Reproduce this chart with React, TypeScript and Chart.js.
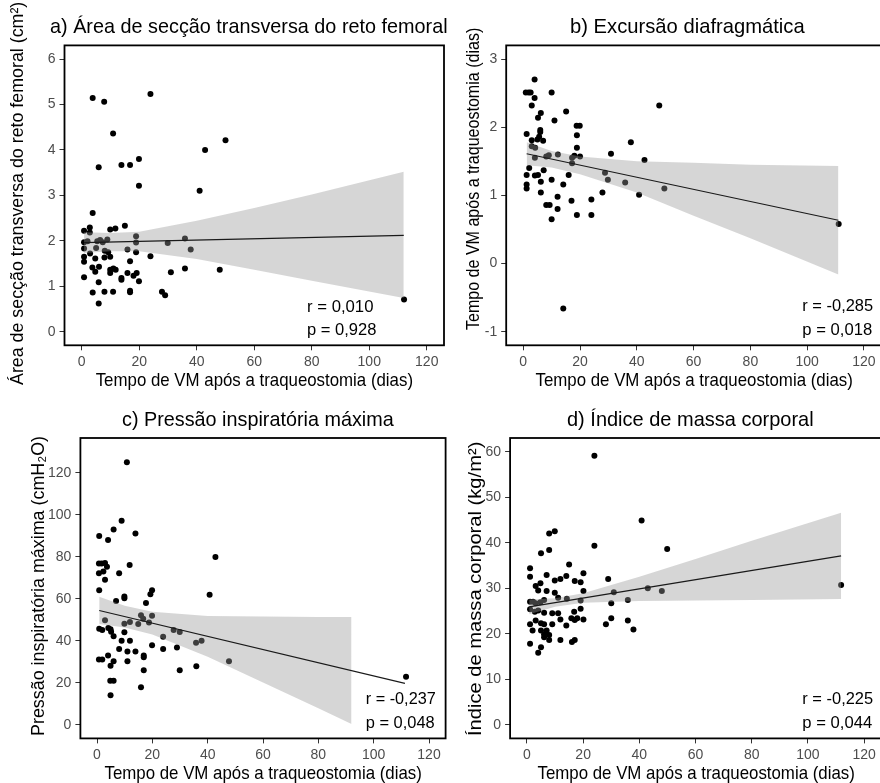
import React, { useEffect, useRef } from "react";
import { Chart, registerables } from "chart.js";

Chart.register(...registerables);

// ---------------- DATA ----------------
const xTickValues = [0, 20, 40, 60, 80, 100, 120];

// a) Área de secção transversa do reto femoral
const aDays = [3.8, 7.8, 23.9, 10.9, 42.9, 50, 5.9, 13.8, 16.8, 19.9, 19.9, 41, 3.8, 15, 9.9, 11.7, 0.8, 2.8, 2.8, 0.8, 2, 6.4, 8.9, 5.4, 7.3, 18.9, 18.9, 18.9, 15.9, 29.9, 35.9, 37.9, 0.8, 2.9, 5, 8, 9.2, 0.8, 0.8, 4.7, 7.9, 9.9, 23.9, 16.8, 3.7, 6, 4.7, 9.9, 11, 11.8, 9.9, 13.8, 13.8, 15.9, 18, 19.1, 19.9, 0.8, 5.9, 31, 35.9, 48, 3.8, 7.9, 10.9, 16.8, 16.8, 27.9, 29, 5.9, 112.1];
const aVals = [5.14, 5.06, 5.23, 4.36, 4.0, 4.21, 3.62, 3.67, 3.67, 3.8, 3.21, 3.1, 2.61, 2.33, 2.25, 2.27, 2.22, 2.29, 2.18, 1.97, 1.99, 2.02, 2.03, 1.99, 1.97, 2.1, 1.96, 1.75, 1.81, 1.95, 2.05, 1.81, 1.83, 1.72, 1.84, 1.78, 1.75, 1.65, 1.54, 1.61, 1.63, 1.65, 1.66, 1.55, 1.41, 1.43, 1.32, 1.36, 1.39, 1.36, 1.29, 1.18, 1.14, 1.29, 1.23, 1.29, 1.11, 1.2, 1.09, 1.31, 1.39, 1.36, 0.86, 0.88, 0.88, 0.9, 0.87, 0.88, 0.8, 0.62, 0.71];
const aLineX = [0.8, 112];
const aLineY = [1.96, 2.12];
const aBandX = [0.8, 10, 20, 40, 60, 80, 112];
const aBandTop = [2.19, 2.17, 2.2, 2.44, 2.72, 3.02, 3.52];
const aBandBottom = [1.73, 1.77, 1.77, 1.6, 1.36, 1.12, 0.74];
const aYTicks = [0, 1, 2, 3, 4, 5, 6];

// b) Excursão diafragmática
const bDays = [4, 0.9, 1.9, 2.6, 10, 4, 3, 6.2, 5.2, 15.1, 11, 47.9, 1.2, 6, 6, 5.6, 5, 3, 7, 18.8, 19.9, 18.9, 18.9, 37.9, 3, 4.2, 9, 12.2, 8.1, 4.1, 17.2, 18, 20, 30.9, 42.7, 2.1, 7.2, 17.2, 1.2, 4.1, 5.2, 16, 6.2, 10, 14.1, 28.8, 29.8, 35.9, 1.2, 1.2, 6.2, 12.1, 27.9, 40.8, 49.7, 8.1, 9.3, 17, 24, 12.1, 18.9, 24, 10, 14.1, 111.1];
const bVals = [2.7, 2.51, 2.51, 2.51, 2.51, 2.43, 2.32, 2.21, 2.14, 2.23, 2.1, 2.32, 1.9, 1.96, 1.93, 1.86, 1.82, 1.81, 1.8, 2.02, 2.02, 1.88, 1.7, 1.78, 1.72, 1.7, 1.59, 1.6, 1.57, 1.55, 1.55, 1.58, 1.57, 1.61, 1.52, 1.4, 1.37, 1.47, 1.3, 1.29, 1.3, 1.3, 1.2, 1.23, 1.16, 1.33, 1.23, 1.19, 1.16, 1.1, 1.04, 0.98, 1.04, 1.01, 1.1, 0.86, 0.86, 0.92, 0.94, 0.8, 0.71, 0.71, 0.65, -0.66, 0.58];
const bLineX = [1.2, 111];
const bLineY = [1.61, 0.635];
const bBandX = [1.2, 10, 20, 40, 60, 80, 111];
const bBandTop = [1.78, 1.65, 1.57, 1.5, 1.48, 1.45, 1.43];
const bBandBottom = [1.44, 1.41, 1.31, 1.04, 0.7, 0.37, -0.16];
const bYTicks = [-1, 0, 1, 2, 3];

// c) Pressão inspiratória máxima
const cDays = [10.8, 8.9, 6.0, 0.8, 4.0, 13.9, 42.8, 0.7, 1.7, 2.9, 3.6, 0.7, 2.3, 2.9, 8, 11.8, 0.8, 9.9, 9.9, 6.9, 19.9, 19.3, 17.7, 40.7, 2.9, 15.9, 16.7, 19.9, 18.8, 14.9, 11.9, 9.9, 0.8, 1.9, 4.1, 4.9, 5.1, 6, 9.9, 23.9, 27.7, 29.9, 8.9, 11.9, 19.9, 35.8, 37.8, 8, 11, 13.9, 16.9, 16.9, 23.9, 28.9, 0.7, 1.9, 4, 6, 4.9, 11, 16.9, 29.9, 35.9, 47.7, 4.8, 6, 15.9, 4.9, 111.7];
const cVals = [124.9, 97.1, 93.0, 89.8, 87.9, 91.0, 79.8, 76.7, 76.8, 77.0, 75.2, 72.1, 72.9, 69.0, 72.1, 76.0, 64.0, 61.0, 60.2, 58.9, 64.0, 62.1, 57.9, 61.9, 49.8, 52.1, 50.5, 51.9, 48.7, 47.9, 48.9, 48.1, 45.7, 45.1, 46.0, 45.4, 44.3, 42.1, 44.0, 41.9, 45.1, 44.1, 40.0, 40.0, 37.9, 39.0, 40.0, 36.0, 34.9, 34.9, 33.0, 32.1, 36.0, 36.8, 31.0, 31.0, 33.0, 30.2, 28.1, 30.2, 26.0, 26.0, 27.9, 30.2, 21.0, 21.0, 17.9, 14.0, 22.9];
const cLineX = [0.8, 111.3];
const cLineY = [54.4, 19.7];
const cBandX = [0.8, 10, 20, 40, 60, 80, 92];
const cBandTop = [60.9, 56.7, 53.8, 51.8, 51.5, 51.3, 51.3];
const cBandBottom = [47.9, 46.3, 43.0, 32.4, 20.1, 7.9, 0.3];
const cYTicks = [0, 20, 40, 60, 80, 100, 120];

// d) Índice de massa corporal
const dDays = [24, 40.8, 49.9, 24, 9.9, 7.9, 5, 7.9, 15, 1.1, 1.1, 7, 3.1, 4.8, 4, 7, 9.9, 11.9, 14, 17, 19.1, 20.1, 20.1, 28.9, 9.9, 11.1, 14.2, 30.9, 43, 48, 35.9, 30, 19.1, 1.1, 2.2, 3.1, 4.8, 6.1, 1.1, 2.8, 4, 6.1, 9, 11.1, 16.8, 19.1, 3.1, 1.1, 5, 6.1, 9, 11.9, 14, 15.8, 17, 17.9, 20.1, 28.1, 30, 35.9, 37.9, 2, 5, 7, 6.1, 7.9, 6.1, 7.9, 11.9, 16, 17, 1.1, 5, 4, 111.8];
const dVals = [59.1, 44.9, 38.6, 39.3, 42.5, 42.0, 37.7, 38.4, 35.2, 34.4, 32.5, 32.9, 30.5, 31.1, 29.5, 29.4, 31.7, 32.0, 32.7, 31.6, 31.3, 33.3, 29.4, 32.0, 29.0, 27.9, 27.7, 29.1, 30.0, 29.4, 27.4, 26.7, 27.3, 27.0, 27.0, 26.7, 26.9, 27.4, 25.4, 24.8, 25.1, 24.6, 24.5, 24.5, 24.8, 25.5, 22.9, 22.1, 22.3, 22.1, 22.1, 23.1, 21.8, 23.4, 23.0, 23.4, 23.1, 22.1, 23.4, 22.9, 20.9, 20.7, 20.7, 20.7, 19.9, 19.7, 19.2, 18.6, 18.6, 18.2, 18.6, 17.8, 17.0, 15.8, 30.7];
const dLineX = [0.8, 111.8];
const dLineY = [25.9, 37.1];
const dBandX = [0.8, 10, 20, 40, 60, 80, 111.8];
const dBandTop = [27.5, 27.8, 28.9, 32.5, 36.4, 40.4, 46.6];
const dBandBottom = [24.3, 25.9, 26.8, 27.2, 27.3, 27.4, 27.6];
const dYTicks = [0, 10, 20, 30, 40, 50, 60];

// ---------------- TEXT ----------------
const xTitle = "Tempo de VM após a traqueostomia (dias)";
const titles = [
  "a) Área de secção transversa do reto femoral",
  "b) Excursão diafragmática",
  "c) Pressão inspiratória máxima",
  "d) Índice de massa corporal",
];
const yTitles = [
  "Área de secção transversa do reto femoral (cm²)",
  "Tempo de VM após a traqueostomia (dias)",
  "Pressão inspiratória máxima (cmH₂O)",
  "Índice de massa corporal (kg/m²)",
];
const rTexts = ["r = 0,010", "r = -0,285", "r = -0,237", "r = -0,225"];
const pTexts = ["p = 0,928", "p = 0,018", "p = 0,048", "p = 0,044"];

// ---------------- LAYOUT / STYLE ----------------
const FONT = '"Liberation Sans", Arial, sans-serif';

type TextItem = {
  text: string;
  x1: number; // horizontal: left ; rotated: start (bottom) y
  x2: number; // horizontal: right ; rotated: end (top) y
  y: number; // horizontal: baseline y ; rotated: baseline x
  size: number;
  rot?: boolean;
};

type Panel = {
  offX: number;
  offY: number;
  w: number;
  h: number;
  left: number;
  top: number;
  right: number;
  bottom: number;
  yMin: number;
  yMax: number;
  yTicks: number[];
  pts: { x: number; y: number }[];
  line: { x: number; y: number }[];
  bandTop: { x: number; y: number }[];
  bandBottom: { x: number; y: number }[];
  texts: TextItem[];
};

const zip = (xs: number[], ys: number[]) => xs.map((x, i) => ({ x, y: ys[i] }));

function drawItem(ctx: CanvasRenderingContext2D, t: TextItem, offX: number, offY: number) {
  ctx.save();
  ctx.font = `${t.size}px ${FONT}`;
  ctx.fillStyle = "#000";
  ctx.textBaseline = "alphabetic";
  ctx.textAlign = "left";
  const m = ctx.measureText(t.text);
  const vis = m.actualBoundingBoxLeft + m.actualBoundingBoxRight;
  const k = Math.abs(t.x2 - t.x1) / vis;
  if (!t.rot) {
    ctx.translate(t.x1 - offX, t.y - offY);
  } else {
    ctx.translate(t.y - offX, t.x1 - offY);
    ctx.rotate(-Math.PI / 2);
  }
  ctx.scale(k, 1);
  ctx.fillText(t.text, m.actualBoundingBoxLeft, 0);
  ctx.restore();
}

const centered = (c: number, w: number) => [c - w / 2, c + w / 2];

const panels: Panel[] = [
  {
    offX: 0, offY: 0, w: 460, h: 392,
    left: 64.5, top: 45.4, right: 444, bottom: 345.3,
    yMin: -0.3, yMax: 6.3, yTicks: aYTicks,
    pts: zip(aDays, aVals), line: zip(aLineX, aLineY),
    bandTop: zip(aBandX, aBandTop), bandBottom: zip(aBandX, aBandBottom),
    texts: [
      { text: titles[0], x1: 50, x2: 447, y: 33, size: 21 },
      { text: xTitle, x1: centered(254.2, 317)[0], x2: centered(254.2, 317)[1], y: 386, size: 19 },
      { text: yTitles[0], x1: 385, x2: 2, y: 23, size: 19, rot: true },
      { text: rTexts[0], x1: 308, x2: 373, y: 311.7, size: 17 },
      { text: pTexts[0], x1: 308, x2: 376, y: 335, size: 17 },
    ],
  },
  {
    offX: 440, offY: 0, w: 445, h: 392,
    left: 66.2, top: 45.4, right: 442, bottom: 345.3,
    yMin: -1.2, yMax: 3.2, yTicks: bYTicks,
    pts: zip(bDays, bVals), line: zip(bLineX, bLineY),
    bandTop: zip(bBandX, bBandTop), bandBottom: zip(bBandX, bBandBottom),
    texts: [
      { text: titles[1], x1: 571, x2: 805, y: 33, size: 21 },
      { text: xTitle, x1: centered(694, 317)[0], x2: centered(694, 317)[1], y: 386, size: 19 },
      { text: yTitles[1], x1: 330, x2: 28, y: 479, size: 19, rot: true },
      { text: rTexts[1], x1: 803.3, x2: 872.7, y: 311, size: 17 },
      { text: pTexts[1], x1: 803.3, x2: 871.7, y: 335, size: 17 },
    ],
  },
  {
    offX: 0, offY: 392, w: 460, h: 391,
    left: 80.4, top: 46, right: 445.6, bottom: 346.4,
    yMin: -6.5, yMax: 136.5, yTicks: cYTicks,
    pts: zip(cDays, cVals), line: zip(cLineX, cLineY),
    bandTop: zip(cBandX, cBandTop), bandBottom: zip(cBandX, cBandBottom),
    texts: [
      { text: titles[2], x1: 122, x2: 394, y: 426, size: 21 },
      { text: xTitle, x1: centered(263, 317)[0], x2: centered(263, 317)[1], y: 779, size: 19 },
      { text: yTitles[2], x1: 735, x2: 437, y: 44, size: 18, rot: true },
      { text: rTexts[2], x1: 366.7, x2: 435.3, y: 704, size: 17 },
      { text: pTexts[2], x1: 366.7, x2: 434.3, y: 728.3, size: 17 },
    ],
  },
  {
    offX: 440, offY: 392, w: 445, h: 391,
    left: 70.1, top: 46, right: 442, bottom: 346.4,
    yMin: -3, yMax: 63, yTicks: dYTicks,
    pts: zip(dDays, dVals), line: zip(dLineX, dLineY),
    bandTop: zip(dBandX, dBandTop), bandBottom: zip(dBandX, dBandBottom),
    texts: [
      { text: titles[3], x1: 567, x2: 813, y: 426, size: 21 },
      { text: xTitle, x1: centered(696, 317)[0], x2: centered(696, 317)[1], y: 779, size: 19 },
      { text: yTitles[3], x1: 735, x2: 442, y: 481, size: 19, rot: true },
      { text: rTexts[3], x1: 803.3, x2: 872.7, y: 704, size: 17 },
      { text: pTexts[3], x1: 803.3, x2: 871.7, y: 727.7, size: 17 },
    ],
  },
];

function buildConfig(p: Panel): any {
  const decor = {
    id: "decor",
    afterDraw(chart: any) {
      const ctx: CanvasRenderingContext2D = chart.ctx;
      const a = chart.chartArea;
      ctx.save();
      ctx.strokeStyle = "#000";
      ctx.lineWidth = 1.8;
      ctx.strokeRect(a.left, a.top, a.right - a.left, a.bottom - a.top);
      ctx.restore();
      p.texts.forEach((t) => drawItem(ctx, t, p.offX, p.offY));
    },
  };
  const tickFont = { family: FONT, size: 14 };
  return {
    type: "scatter",
    data: {
      datasets: [
        { type: "line", data: p.line, borderColor: "#1a1a1a", borderWidth: 1.2, pointRadius: 0, fill: false, order: 0, tension: 0 },
        { type: "line", data: p.bandTop, borderWidth: 0, borderColor: "rgba(0,0,0,0)", pointRadius: 0, backgroundColor: "rgba(153,153,153,0.4)", fill: "+1", order: 1, tension: 0 },
        { type: "line", data: p.bandBottom, borderWidth: 0, borderColor: "rgba(0,0,0,0)", pointRadius: 0, fill: false, order: 2, tension: 0 },
        { type: "scatter", data: p.pts, backgroundColor: "#000", borderWidth: 0, pointRadius: 3, order: 3 },
      ],
    },
    options: {
      animation: false,
      responsive: false,
      devicePixelRatio: 1,
      events: [],
      layout: { padding: { left: 0, top: p.top, right: p.w - p.right, bottom: 0 } },
      plugins: { legend: { display: false }, tooltip: { enabled: false }, title: { display: false } },
      scales: {
        x: {
          type: "linear",
          min: -6,
          max: 126,
          afterBuildTicks: (axis: any) => {
            axis.ticks = xTickValues.map((v) => ({ value: v }));
          },
          afterFit: (s: any) => {
            s.height = p.h - p.bottom;
          },
          ticks: { color: "#4d4d4d", font: tickFont, padding: 3, maxRotation: 0, autoSkip: false },
          grid: { drawOnChartArea: false, drawTicks: true, tickLength: 5, color: "#333", lineWidth: 1 },
          border: { display: false },
        },
        y: {
          type: "linear",
          min: p.yMin,
          max: p.yMax,
          afterBuildTicks: (axis: any) => {
            axis.ticks = p.yTicks.map((v) => ({ value: v }));
          },
          afterFit: (s: any) => {
            s.width = p.left;
          },
          ticks: { color: "#4d4d4d", font: tickFont, padding: 4, autoSkip: false },
          grid: { drawOnChartArea: false, drawTicks: true, tickLength: 5, color: "#333", lineWidth: 1 },
          border: { display: false },
        },
      },
    },
    plugins: [decor],
  };
}

function PanelChart({ p }: { p: Panel }) {
  const ref = useRef<HTMLCanvasElement>(null);
  useEffect(() => {
    const chart = new Chart(ref.current as HTMLCanvasElement, buildConfig(p));
    return () => chart.destroy();
  }, []);
  return (
    <canvas
      ref={ref}
      width={p.w}
      height={p.h}
      style={{ position: "absolute", left: p.offX, top: p.offY, width: p.w, height: p.h }}
    />
  );
}

export default function App() {
  return (
    <div
      style={{
        position: "absolute",
        left: 0,
        top: 0,
        width: 880,
        height: 783,
        overflow: "hidden",
        background: "#fff",
      }}
    >
      {panels.map((p, i) => (
        <PanelChart key={i} p={p} />
      ))}
    </div>
  );
}
